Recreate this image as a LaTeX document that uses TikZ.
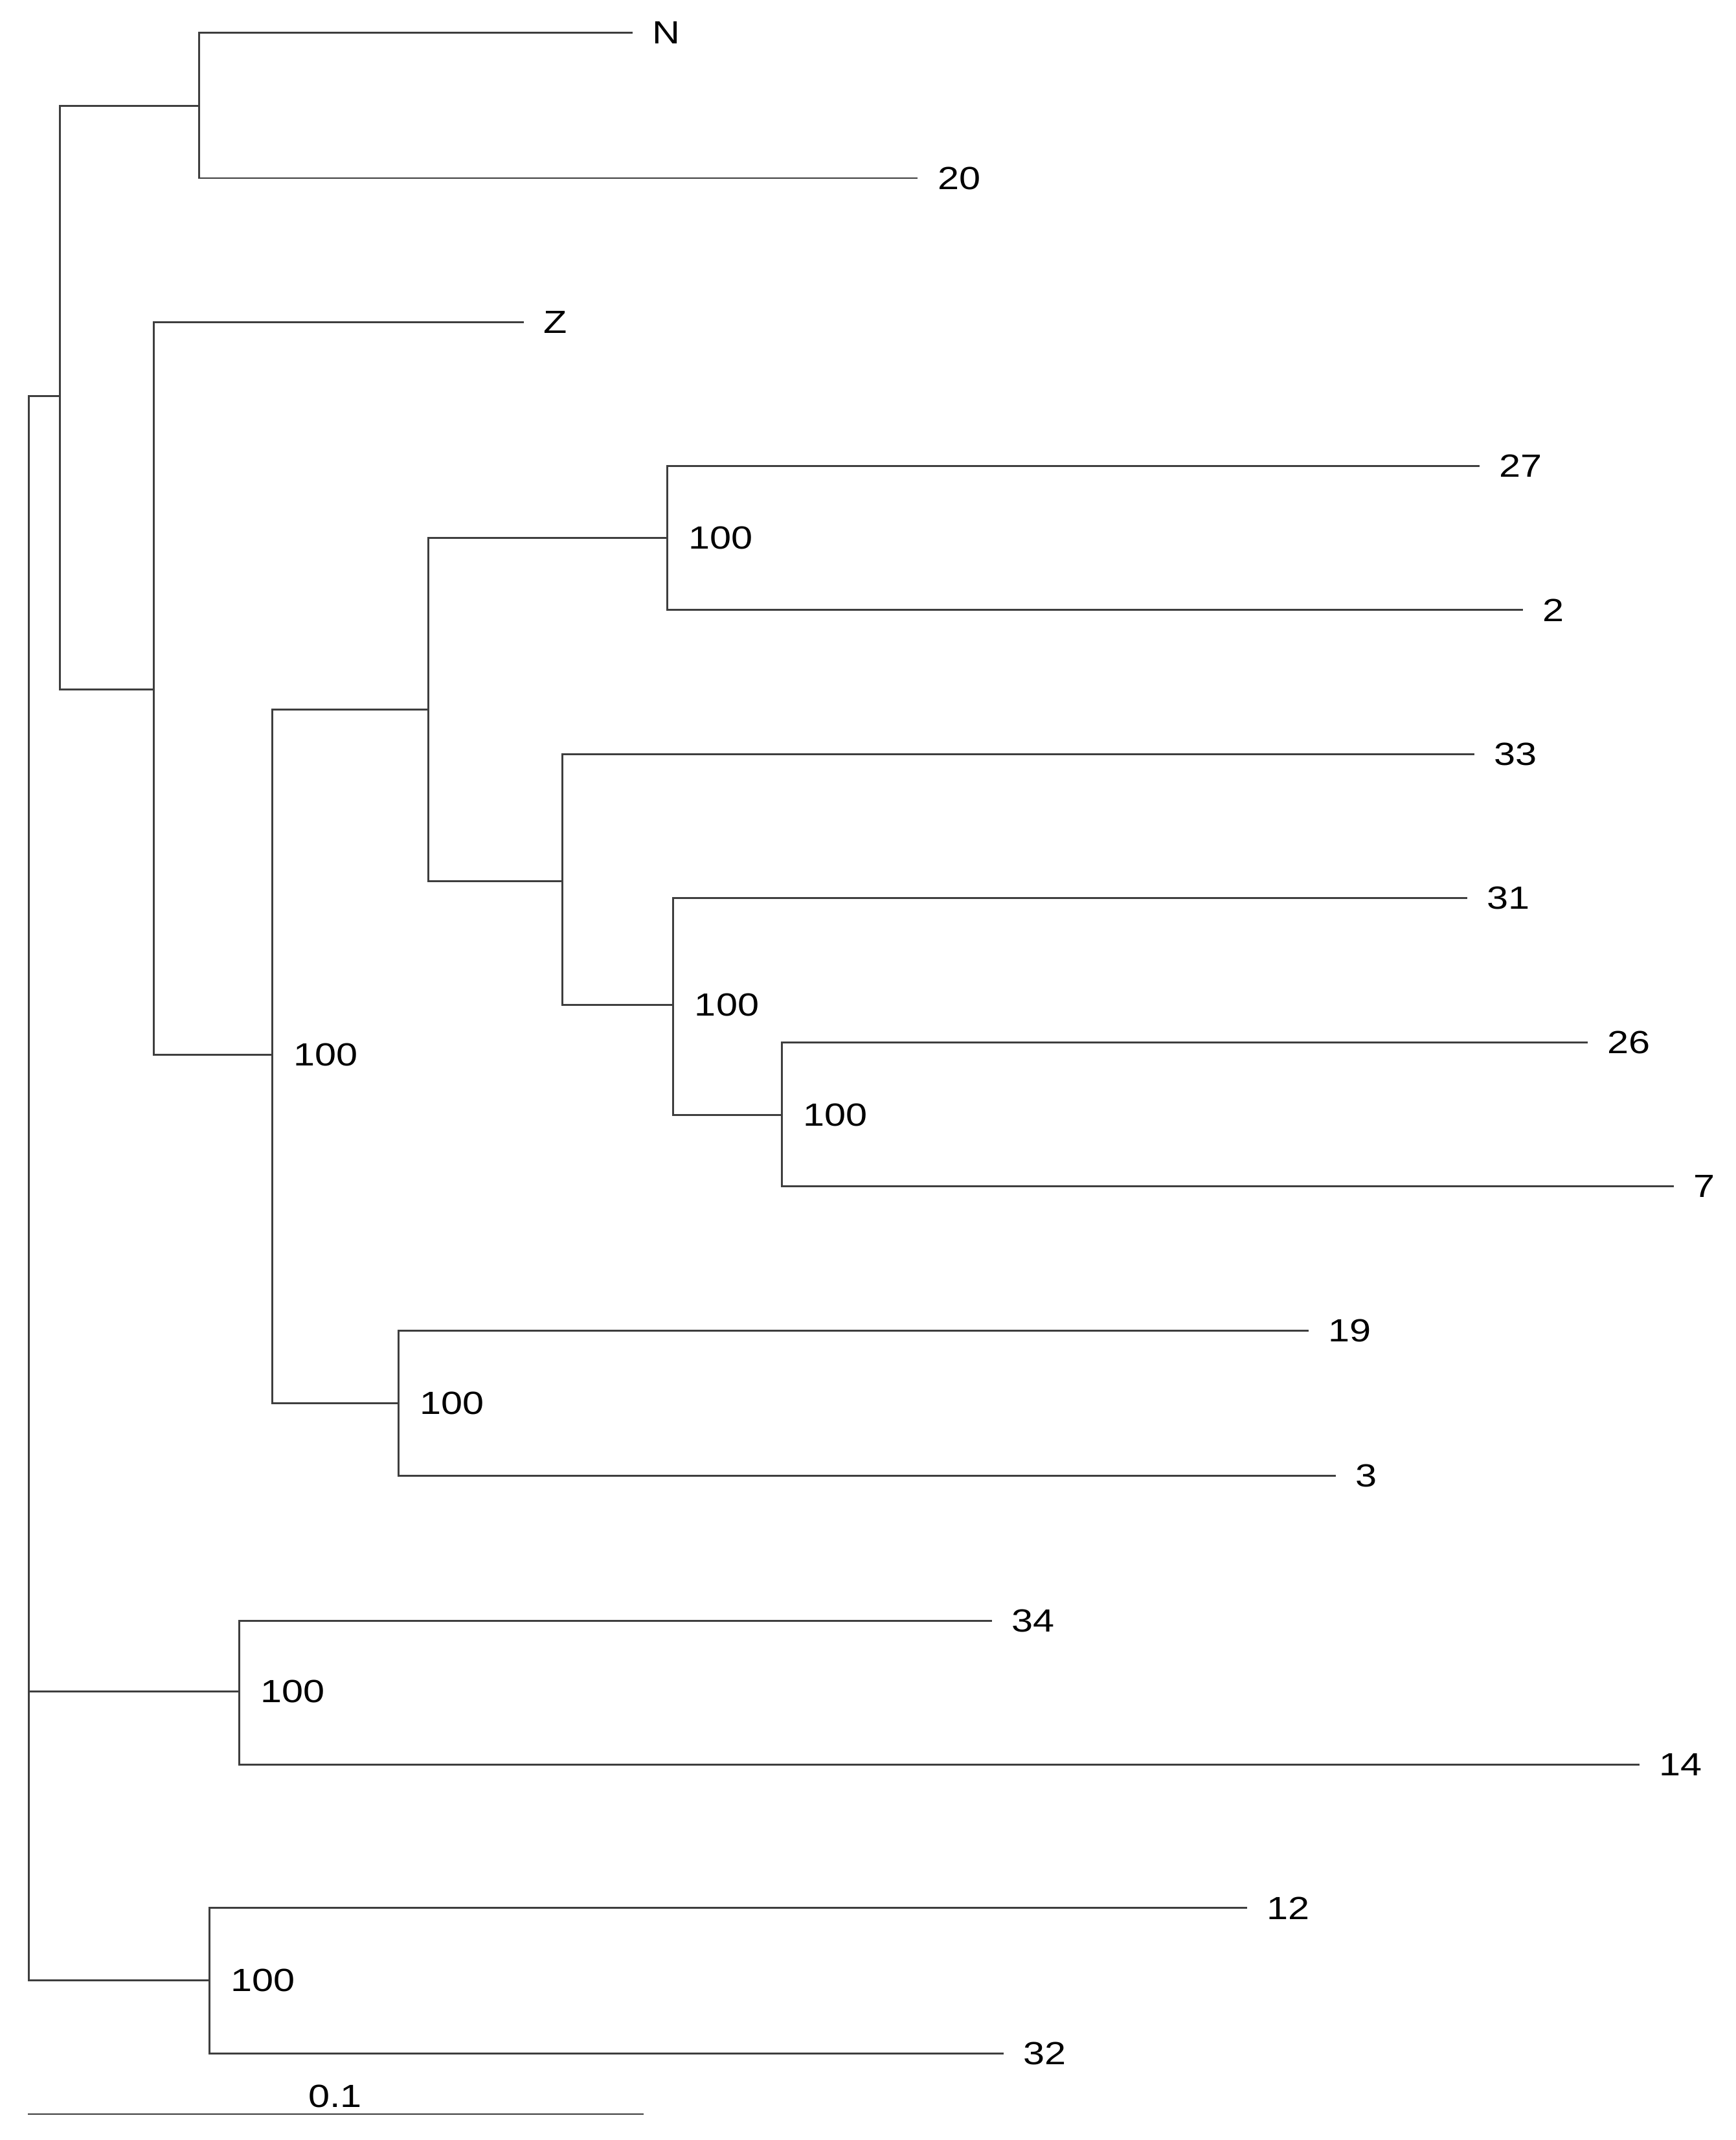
\documentclass[tikz,border=0pt]{standalone}
\usepackage{fontspec}
\setmainfont{Liberation Sans}
\newfontfamily\labfont[FakeStretch=1.2]{Liberation Sans}
\begin{document}
\begin{tikzpicture}[x=1pt,y=-1pt,
  branch/.style={draw={rgb,255:red,62;green,62;blue,62},line width=1.4pt,line cap=rect},
  leaflab/.style={anchor=west,inner sep=0pt,font=\labfont\fontsize{23.5}{27}\selectfont,xshift=15pt},
  bootlab/.style={anchor=west,inner sep=0pt,font=\labfont\fontsize{23.5}{27}\selectfont,xshift=15.5pt}]
\useasboundingbox[fill=white] (0,0) rectangle (1272,1568);
% internal nodes
\coordinate (root) at (21,290);
\coordinate (a) at (44,290);
\coordinate (nn) at (146,77.5);
\coordinate (b) at (112.5,505);
\coordinate (c) at (199.5,773);
\coordinate (d) at (314,520);
\coordinate (e) at (489,394);
\coordinate (f) at (412,645.5);
\coordinate (g) at (493.5,736.5);
\coordinate (k) at (573,817);
\coordinate (h) at (292,1028);
\coordinate (m) at (175.5,1239.5);
\coordinate (n) at (153.5,1451);
% leaf ends
\coordinate (lN) at (463,24);
\coordinate (l20) at (672,130.5);
\coordinate (lZ) at (383,236);
\coordinate (l27) at (1083.5,341.5);
\coordinate (l2) at (1115.5,447);
\coordinate (l33) at (1080,552.5);
\coordinate (l31) at (1074.5,658);
\coordinate (l26) at (1163,764);
\coordinate (l7) at (1226,869);
\coordinate (l19) at (958.5,975);
\coordinate (l3) at (978.5,1081.5);
\coordinate (l34) at (726.5,1187.5);
\coordinate (l14) at (1201,1293);
\coordinate (l12) at (913.5,1398);
\coordinate (l32) at (735,1504.5);
% branches
\draw[branch] (root) |- (a);
\draw[branch] (root) |- (m);
\draw[branch] (root) |- (n);
\draw[branch] (a) |- (nn);
\draw[branch] (a) |- (b);
\draw[branch] (nn) |- (lN);
\draw[branch] (nn) |- (l20);
\draw[branch] (b) |- (lZ);
\draw[branch] (b) |- (c);
\draw[branch] (c) |- (d);
\draw[branch] (c) |- (h);
\draw[branch] (d) |- (e);
\draw[branch] (d) |- (f);
\draw[branch] (e) |- (l27);
\draw[branch] (e) |- (l2);
\draw[branch] (f) |- (l33);
\draw[branch] (f) |- (g);
\draw[branch] (g) |- (l31);
\draw[branch] (g) |- (k);
\draw[branch] (k) |- (l26);
\draw[branch] (k) |- (l7);
\draw[branch] (h) |- (l19);
\draw[branch] (h) |- (l3);
\draw[branch] (m) |- (l34);
\draw[branch] (m) |- (l14);
\draw[branch] (n) |- (l12);
\draw[branch] (n) |- (l32);
% leaf labels
\node[leaflab] (tN) at (lN) {N};
\node[leaflab] (t20) at (l20) {20};
\node[leaflab] (tZ) at (lZ) {Z};
\node[leaflab] (t27) at (l27) {27};
\node[leaflab] (t2) at (l2) {2};
\node[leaflab] (t33) at (l33) {33};
\node[leaflab] (t31) at (l31) {31};
\node[leaflab] (t26) at (l26) {26};
\node[leaflab] (t7) at (l7) {7};
\node[leaflab] (t19) at (l19) {19};
\node[leaflab] (t3) at (l3) {3};
\node[leaflab] (t34) at (l34) {34};
\node[leaflab] (t14) at (l14) {14};
\node[leaflab] (t12) at (l12) {12};
\node[leaflab] (t32) at (l32) {32};
% bootstrap labels
\node[bootlab] (bc) at (c) {100};
\node[bootlab] (be) at (e) {100};
\node[bootlab] (bg) at (g) {100};
\node[bootlab] (bk) at (k) {100};
\node[bootlab] (bh) at (h) {100};
\node[bootlab] (bm) at (m) {100};
\node[bootlab] (bn) at (n) {100};
% scale bar
\coordinate (s1) at (21,1549);
\coordinate (s2) at (471,1549);
\draw[branch] (s1) -- (s2);
\node[inner sep=0pt,font=\labfont\fontsize{23.5}{27}\selectfont] (sl) at (245.5,1536) {0.1};
\end{tikzpicture}
\end{document}
